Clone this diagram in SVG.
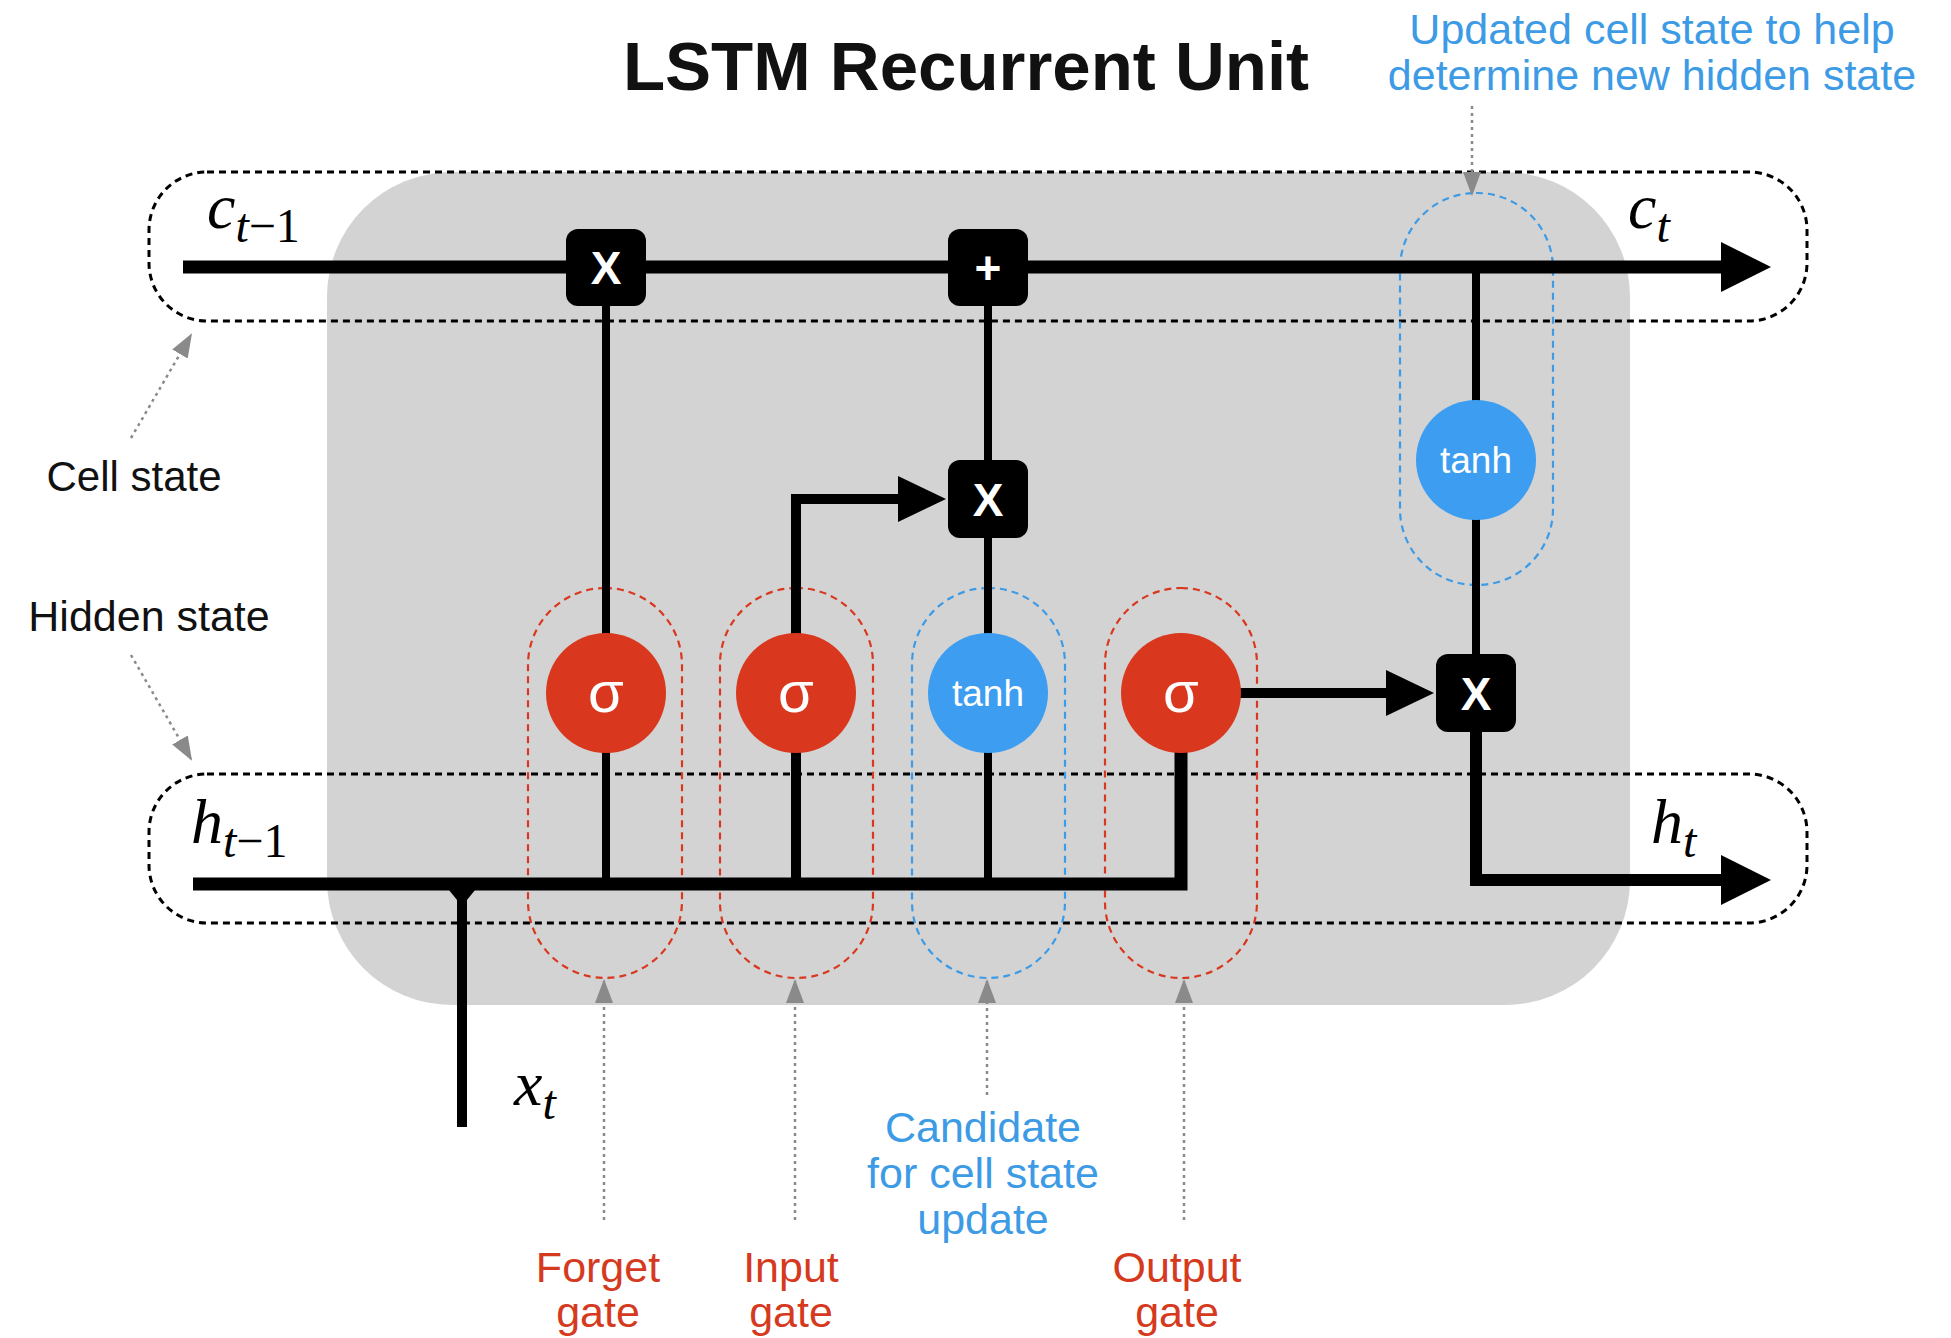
<svg xmlns="http://www.w3.org/2000/svg" width="1951" height="1338" viewBox="0 0 1951 1338">
<style>
.sans{font-family:"Liberation Sans",Arial,sans-serif}
.math{font-family:"Liberation Serif","DejaVu Serif",serif;font-style:italic}
.lbl{font-family:"Liberation Sans",Arial,sans-serif;font-size:43px;text-anchor:middle}
.red{fill:#d63a1e}
.blue{fill:#3d9be6}
.wire{stroke:#000;fill:none}
.state{fill:none;stroke:#000;stroke-width:3;stroke-dasharray:7 5}
.pillR{fill:none;stroke:#d9381e;stroke-width:2.2;stroke-dasharray:7 5}
.pillB{fill:none;stroke:#3d9be6;stroke-width:2.2;stroke-dasharray:7 5}
.dot{stroke:#8a8a8a;stroke-width:2.5;stroke-dasharray:3 4;fill:none}
.op{fill:#000}
.optxt{fill:#fff;font-family:"Liberation Sans",Arial,sans-serif;font-weight:bold;font-size:46px;text-anchor:middle}
.act{font-family:"Liberation Sans",Arial,sans-serif;fill:#fff;text-anchor:middle}
</style>
<defs>
<marker id="gray" viewBox="0 0 24 18" refX="22" refY="9" markerWidth="24" markerHeight="18" orient="auto" markerUnits="userSpaceOnUse">
<path d="M0,0 L24,9 L0,18 z" fill="#8a8a8a"/>
</marker>
</defs>
<rect width="1951" height="1338" fill="#fff"/>
<rect x="327" y="172" width="1303" height="833" rx="125" ry="125" fill="#d3d3d3"/>

<text x="966" y="90" class="sans" font-size="69" font-weight="bold" text-anchor="middle" fill="#111">LSTM Recurrent Unit</text>

<g id="state-boxes">
<rect class="state" x="149" y="172" width="1658" height="149" rx="58"/>
<rect class="state" x="149" y="774" width="1658" height="149" rx="58"/>
</g>

<g id="pills">
<rect class="pillR" x="528" y="588" width="154" height="390" rx="77"/>
<rect class="pillR" x="720" y="588" width="153" height="390" rx="76"/>
<rect class="pillB" x="912" y="588" width="153" height="390" rx="76"/>
<rect class="pillR" x="1105" y="588" width="152" height="390" rx="76"/>
<rect class="pillB" x="1400" y="193" width="153" height="392" rx="76"/>
</g>

<g id="connectors">
<line class="wire" x1="183" y1="267" x2="1725" y2="267" stroke-width="13"/>
<polygon points="1721,242 1771,267 1721,292" fill="#000"/>
<polyline class="wire" points="193,884 1181,884 1181,700" stroke-width="13"/>
<line class="wire" x1="462" y1="884" x2="462" y2="1127" stroke-width="10"/>
<polygon points="444,884 480,884 462,906" fill="#000"/>
<line class="wire" x1="606" y1="300" x2="606" y2="884" stroke-width="8"/>
<polyline class="wire" points="796,884 796,499 905,499" stroke-width="10"/>
<polygon points="898,476 946,499 898,522" fill="#000"/>
<line class="wire" x1="988" y1="267" x2="988" y2="884" stroke-width="8"/>
<line class="wire" x1="1181" y1="693" x2="1392" y2="693" stroke-width="10"/>
<polygon points="1386,670 1434,693 1386,716" fill="#000"/>
<line class="wire" x1="1476" y1="267" x2="1476" y2="700" stroke-width="8"/>
<polyline class="wire" points="1476,700 1476,880 1725,880" stroke-width="12"/>
<polygon points="1721,855 1771,880 1721,905" fill="#000"/>
</g>

<g id="annotation-arrows">
<line class="dot" x1="131" y1="438" x2="191" y2="335" marker-end="url(#gray)"/>
<line class="dot" x1="131" y1="655" x2="191" y2="759" marker-end="url(#gray)"/>
<line class="dot" x1="1472" y1="106" x2="1472" y2="194" marker-end="url(#gray)"/>
<line class="dot" x1="604" y1="1220" x2="604" y2="981" marker-end="url(#gray)"/>
<line class="dot" x1="795" y1="1220" x2="795" y2="981" marker-end="url(#gray)"/>
<line class="dot" x1="987" y1="1095" x2="987" y2="981" marker-end="url(#gray)"/>
<line class="dot" x1="1184" y1="1220" x2="1184" y2="981" marker-end="url(#gray)"/>
</g>

<g id="forget-mult">
<rect class="op" x="566" y="229" width="80" height="77" rx="12"/>
<text class="optxt" x="606" y="284">X</text>
</g>
<g id="cell-add">
<rect class="op" x="948" y="229" width="80" height="77" rx="12"/>
<text class="optxt" x="988" y="284">+</text>
</g>
<g id="input-mult">
<rect class="op" x="948" y="460" width="80" height="78" rx="12"/>
<text class="optxt" x="988" y="516">X</text>
</g>
<g id="output-mult">
<rect class="op" x="1436" y="654" width="80" height="78" rx="12"/>
<text class="optxt" x="1476" y="710">X</text>
</g>

<g id="forget-sigma">
<circle cx="606" cy="693" r="60" fill="#d9381e"/>
<text class="act" x="606" y="712" font-size="58">σ</text>
</g>
<g id="input-sigma">
<circle cx="796" cy="693" r="60" fill="#d9381e"/>
<text class="act" x="796" y="712" font-size="58">σ</text>
</g>
<g id="candidate-tanh">
<circle cx="988" cy="693" r="60" fill="#3d9df0"/>
<text class="act" x="988" y="706" font-size="37">tanh</text>
</g>
<g id="output-sigma">
<circle cx="1181" cy="693" r="60" fill="#d9381e"/>
<text class="act" x="1181" y="712" font-size="58">σ</text>
</g>
<g id="cell-tanh">
<circle cx="1476" cy="460" r="60" fill="#3d9df0"/>
<text class="act" x="1476" y="473" font-size="37">tanh</text>
</g>

<g id="math-labels">
<text class="math" x="207" y="228" font-size="64">c<tspan font-size="48" dy="14">t</tspan><tspan font-size="48" font-style="normal">−1</tspan></text>
<text class="math" x="1628" y="228" font-size="64">c<tspan font-size="48" dy="14">t</tspan></text>
<text class="math" x="191" y="843" font-size="64">h<tspan font-size="48" dy="14">t</tspan><tspan font-size="48" font-style="normal">−1</tspan></text>
<text class="math" x="1651" y="843" font-size="64">h<tspan font-size="48" dy="14">t</tspan></text>
<text class="math" x="514" y="1105" font-size="64">x<tspan font-size="48" dy="14">t</tspan></text>
</g>

<g id="text-labels">
<text class="sans" x="134" y="491" font-size="42" text-anchor="middle" fill="#111">Cell state</text>
<text class="sans" x="149" y="631" font-size="43" text-anchor="middle" fill="#111">Hidden state</text>
<text class="lbl blue" x="1652" y="44">Updated cell state to help</text>
<text class="lbl blue" x="1652" y="90">determine new hidden state</text>
<text class="lbl blue" x="983" y="1142">Candidate</text>
<text class="lbl blue" x="983" y="1188">for cell state</text>
<text class="lbl blue" x="983" y="1234">update</text>
<text class="lbl red" x="598" y="1282">Forget</text>
<text class="lbl red" x="598" y="1327">gate</text>
<text class="lbl red" x="791" y="1282">Input</text>
<text class="lbl red" x="791" y="1327">gate</text>
<text class="lbl red" x="1177" y="1282">Output</text>
<text class="lbl red" x="1177" y="1327">gate</text>
</g>
</svg>
